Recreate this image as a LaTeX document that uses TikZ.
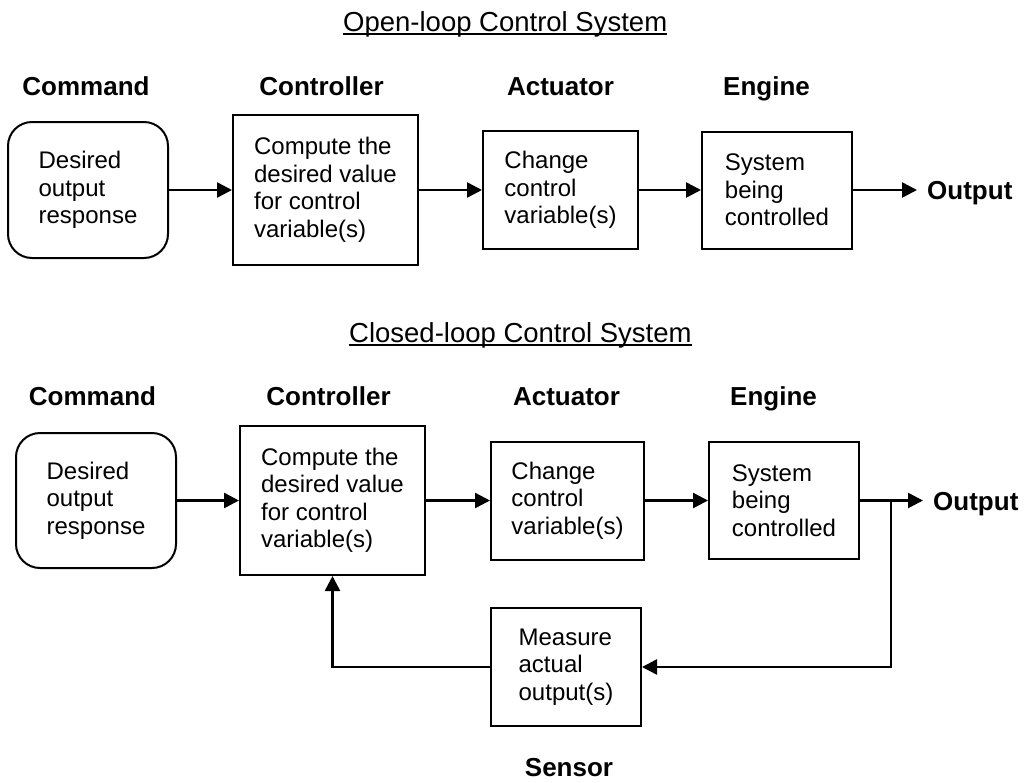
\documentclass[tikz,border=0pt]{standalone}
\usepackage{fontspec}
\setmainfont{Liberation Sans}
\usetikzlibrary{arrows.meta}
\begin{document}
\begin{tikzpicture}[x=1pt,y=-1pt,
  box/.style={draw, line width=2pt, inner sep=0pt, align=left, font=\fontsize{24}{27.5}\selectfont},
  rbox/.style={box, rounded corners=24pt},
  lbl/.style={anchor=base, inner sep=0pt, font=\fontsize{26}{30}\selectfont\bfseries},
  outlbl/.style={lbl, anchor=base west},
  ttl/.style={anchor=base west, inner sep=0pt, font=\fontsize{27.5}{32}\selectfont},
  conn/.style={line width=2.5pt, -{Triangle[length=15pt,width=15pt]}},
  uline/.style={line width=1.8pt}
]
\useasboundingbox (0,0) rectangle (1024,782);

% ---------- Open-loop ----------
\node[ttl] (t1) at (343,31) {Open-loop Control System};
\draw[uline] ([yshift=-3pt]t1.base west) -- ([yshift=-3pt]t1.base east);

\node[lbl] (l1a) at (86,95) {Command};
\node[lbl] (l1b) at (321.5,95) {Controller};
\node[lbl] (l1c) at (560.5,95) {Actuator};
\node[lbl] (l1d) at (766.5,95) {Engine};

\node[rbox, minimum width=160pt, minimum height=136pt] (cmd1) at (88,190) {Desired\\output\\response};
\node[box, minimum width=185pt, minimum height=150pt] (ctl1) at (325.5,190) {Compute the\\desired value\\for control\\variable(s)};
\node[box, minimum width=155pt, minimum height=118pt] (act1) at (560.5,190) {Change\\control\\variable(s)};
\node[box, minimum width=150pt, minimum height=117pt] (eng1) at (777,190) {System\\being\\controlled};
\node[outlbl] (out1) at (927,199) {Output};
\coordinate (o1) at (917,190);

\draw[conn] (cmd1) -- (ctl1);
\draw[conn] (ctl1) -- (act1);
\draw[conn] (act1) -- (eng1);
\draw[conn] (eng1.east) -- (o1);

% ---------- Closed-loop ----------
\node[ttl] (t2) at (349,342) {Closed-loop Control System};
\draw[uline] ([yshift=-3pt]t2.base west) -- ([yshift=-3pt]t2.base east);

\node[lbl] (l2a) at (92.5,405) {Command};
\node[lbl] (l2b) at (328.5,405) {Controller};
\node[lbl] (l2c) at (566.5,405) {Actuator};
\node[lbl] (l2d) at (773.5,405) {Engine};
\node[lbl] (l2e) at (569,776) {Sensor};

\node[rbox, minimum width=160pt, minimum height=135pt] (cmd2) at (96,500.5) {Desired\\output\\response};
\node[box, minimum width=185pt, minimum height=149pt] (ctl2) at (332.5,500.5) {Compute the\\desired value\\for control\\variable(s)};
\node[box, minimum width=153pt, minimum height=118pt] (act2) at (567.5,500.5) {Change\\control\\variable(s)};
\node[box, minimum width=150pt, minimum height=117pt] (eng2) at (784,500.5) {System\\being\\controlled};
\node[box, minimum width=150pt, minimum height=118pt] (sen) at (566,667) {Measure\\actual\\output(s)};
\node[outlbl] (out2) at (933,510) {Output};
\coordinate (j) at (891,500.5);
\coordinate (o2) at (923,500.5);

\draw[conn] (cmd2) -- (ctl2);
\draw[conn] (ctl2) -- (act2);
\draw[conn] (act2) -- (eng2);
\draw[conn] (eng2.east) -- (o2);
\draw[conn] (j) |- (sen.east);
\draw[conn] (sen.west) -| (ctl2.south);
\end{tikzpicture}
\end{document}
